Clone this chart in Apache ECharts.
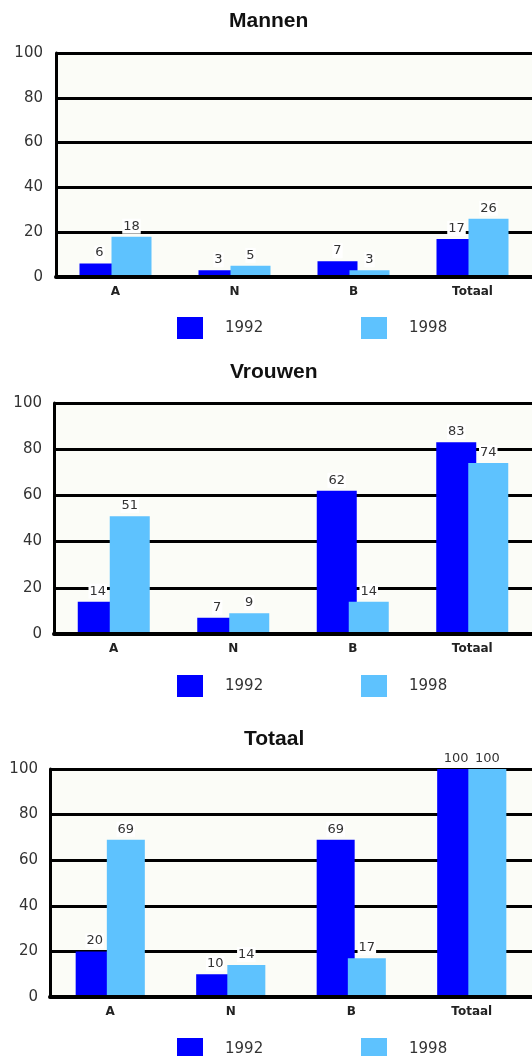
<!DOCTYPE html>
<html>
<head>
<meta charset="utf-8">
<script src="https://cdn.jsdelivr.net/npm/echarts@6/dist/echarts.min.js"></script>
<style>
html,body{margin:0;padding:0;background:#fff;}
#c{width:532px;height:1056px;}
</style>
</head>
<body>
<div id="c"></div>
<script>
const categories = ['A', 'N', 'B', 'Totaal'];
const seriesNames = ['1992', '1998'];
const panelTitles = ['Mannen', 'Vrouwen', 'Totaal'];
const mannen1992 = [6, 3, 7, 17];
const mannen1998 = [18, 5, 3, 26];
const vrouwen1992 = [14, 7, 62, 83];
const vrouwen1998 = [51, 9, 14, 74];
const totaal1992 = [20, 10, 69, 100];
const totaal1998 = [69, 14, 17, 100];
const yMin = 0, yMax = 100, yStep = 20;

const panelData = [[mannen1992, mannen1998], [vrouwen1992, vrouwen1998], [totaal1992, totaal1998]];

// layout (pixels)
const panels = [
  {titleLeft: 229, titleTop: 11, left: 56, top: 53, height: 224, right: -2, legendTop: 317, labelMargin: 13, barWidth: 40, barGap: '-20%'},
  {titleLeft: 230, titleTop: 362, left: 54, top: 403, height: 231, right: -2, legendTop: 675, labelMargin: 12, barWidth: 40, barGap: '-20%'},
  {titleLeft: 244, titleTop: 729, left: 50, top: 769, height: 228, right: -4, legendTop: 1038, labelMargin: 12, barWidth: 38, barGap: '-18%'}
];
const colors = ['#0000FF', '#5EC2FE'];
const FONT = 'DejaVu Sans';

const chart = echarts.init(document.getElementById('c'), null, {renderer: 'canvas'});

const option = {
  animation: false,
  backgroundColor: '#ffffff',
  title: [], grid: [], xAxis: [], yAxis: [], legend: [], series: []
};

panels.forEach((p, i) => {
  option.title.push({
    text: panelTitles[i], left: p.titleLeft, top: p.titleTop, padding: 0,
    textStyle: {fontFamily: 'Liberation Sans', fontWeight: 'bold', fontSize: 21, color: '#111'}
  });
  option.grid.push({
    left: p.left, top: p.top, height: p.height, right: p.right,
    show: true, backgroundColor: '#FBFCF7', borderWidth: 0, containLabel: false
  });
  option.xAxis.push({
    type: 'category', gridIndex: i, data: categories, z: 5,
    axisLine: {show: true, lineStyle: {color: '#000', width: 4}},
    axisTick: {show: false},
    axisLabel: {margin: 9, fontFamily: FONT, fontWeight: 'bold', fontSize: 12, color: '#222'},
    splitLine: {show: false}
  });
  option.yAxis.push({
    type: 'value', gridIndex: i, min: yMin, max: yMax, interval: yStep,
    axisLine: {show: true, lineStyle: {color: '#000', width: 3}},
    axisTick: {show: false},
    axisLabel: {margin: p.labelMargin, fontFamily: FONT, fontSize: 15, color: '#333'},
    splitLine: {show: true, lineStyle: {color: '#000', width: 3}}
  });
  seriesNames.forEach((name, k) => {
    option.legend.push({
      data: [name], left: k === 0 ? 177 : 361, top: p.legendTop, padding: 0,
      icon: 'rect', itemWidth: 26, itemHeight: 22,
      textStyle: {fontFamily: FONT, fontSize: 15, color: '#333', padding: [0, 0, 0, 17]},
      selectedMode: false
    });
    option.series.push({
      type: 'bar', name: name, xAxisIndex: i, yAxisIndex: i,
      data: panelData[i][k],
      barWidth: p.barWidth, barGap: p.barGap,
      itemStyle: {color: colors[k]},
      label: {
        show: true, position: 'top', distance: 3,
        fontFamily: FONT, fontSize: 13, color: '#333',
        backgroundColor: '#ffffff', padding: [1, 1, 1, 1]
      }
    });
  });
});

chart.setOption(option);
</script>
</body>
</html>
